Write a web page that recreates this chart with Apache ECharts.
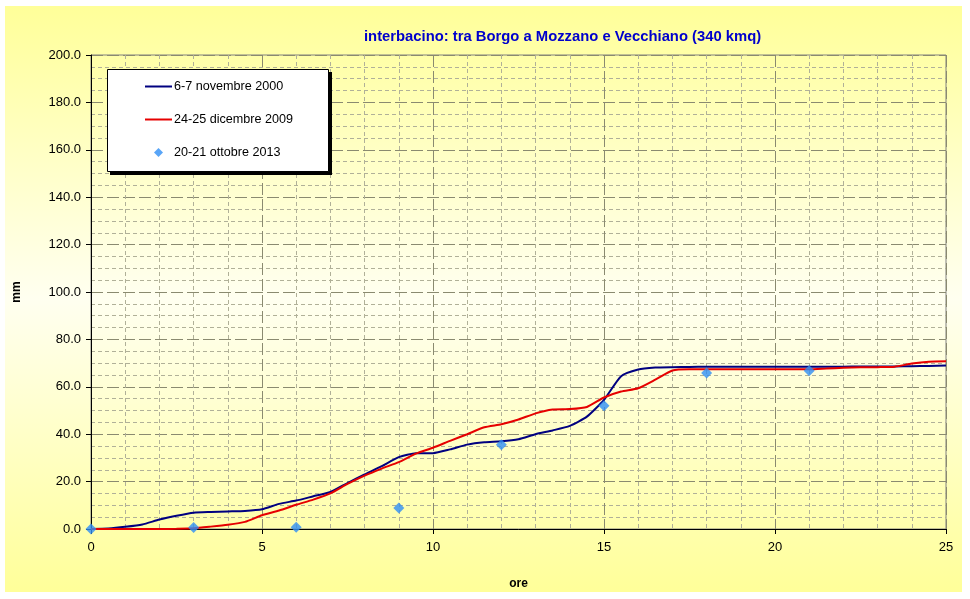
<!DOCTYPE html>
<html>
<head>
<meta charset="utf-8">
<script src="https://cdn.jsdelivr.net/npm/echarts@6.0.0/dist/echarts.min.js"></script>
<style>
  html, body { margin: 0; padding: 0; background: #ffffff; }
  #main { width: 970px; height: 599px; }
</style>
</head>
<body>
<div id="main"></div>
<script>
// ore (ascissa comune delle due curve)
var ore = [0, 0.5, 1, 1.5, 2, 2.5, 3, 3.5, 4, 4.5, 5, 5.5, 6, 6.5, 7, 7.5, 8, 8.5, 9, 9.5,
  10, 10.5, 11, 11.5, 12, 12.5, 13, 13.5, 14, 14.5, 15, 15.5, 16, 16.5, 17, 17.5, 18, 18.5, 19, 19.5,
  20, 20.5, 21, 21.5, 22, 22.5, 23, 23.5, 24, 24.5, 25]

// 6-7 novembre 2000 (mm cumulati)
var nov2000 = [0, 0.2, 0.9, 1.9, 4.0, 5.6, 6.9, 7.2, 7.4, 7.6, 8.3, 10.6, 12.0, 13.8, 15.6, 19.4, 23.0, 26.5, 30.3, 32.0,
  32.0, 33.6, 35.6, 36.6, 37.0, 37.9, 40.0, 41.6, 43.5, 47.4, 54.5, 64.5, 67.3, 68.1, 68.3, 68.4, 68.5, 68.5, 68.5, 68.5,
  68.5, 68.5, 68.5, 68.5, 68.5, 68.6, 68.6, 68.6, 68.7, 68.8, 69.0]

// 24-25 dicembre 2009
var dic2009 = [0, 0, 0, 0, 0, 0.1, 0.3, 1.0, 1.8, 3.0, 5.8, 7.8, 10.2, 12.4, 15.0, 19.0, 22.5, 25.5, 28.2, 31.8,
  34.3, 37.2, 40.0, 42.9, 44.2, 46.2, 48.8, 50.4, 50.6, 51.5, 55.5, 58.0, 59.4, 63.0, 66.9, 67.4, 67.4, 67.4, 67.4, 67.4,
  67.4, 67.4, 67.4, 67.7, 68.0, 68.2, 68.3, 68.5, 69.8, 70.6, 70.8]

// 20-21 ottobre 2013 (punti ogni 3 ore)
var ore2013 = [0, 3, 6, 9, 12, 15, 18, 21]
var ott2013 = [0, 0.6, 0.7, 8.9, 35.5, 52.0, 65.8, 66.8]

var nomi = ['6-7 novembre 2000', '24-25 dicembre 2009', '20-21 ottobre 2013']

function coppie (xs, ys) {
  var out = []
  for (var i = 0; i < xs.length; i++) out.push([xs[i], ys[i]])
  return out
}

var fontFam = '"Liberation Sans", Arial, sans-serif'
var iconLinea = 'path://M0,0 L27,0 L27,2 L0,2 Z'
var iconRombo = 'path://M5,0 L10,5 L5,10 L0,5 Z'
var myChart = echarts.init(document.getElementById('main'))

var option = {
  animation: false,
  backgroundColor: '#ffffff',
  graphic: [{
    type: 'rect',
    z: -100,
    silent: true,
    shape: { x: 5, y: 6, width: 957, height: 586 },
    style: {
      fill: {
        type: 'linear', x: 0, y: 0, x2: 0, y2: 1,
        colorStops: [
          { offset: 0, color: '#ffff99' },
          { offset: 0.5, color: '#fffff0' },
          { offset: 1, color: '#ffff99' }
        ]
      }
    }
  }, {
    // ombra del riquadro legenda
    type: 'rect',
    z: 10,
    silent: true,
    shape: { x: 110, y: 72, width: 222, height: 103 },
    style: { fill: '#000000' }
  }, {
    type: 'rect',
    z: 11,
    silent: true,
    shape: { x: 107.5, y: 69.5, width: 221, height: 102 },
    style: { fill: '#ffffff', stroke: '#000000', lineWidth: 1 }
  }],
  title: {
    text: 'interbacino: tra Borgo a Mozzano e Vecchiano (340 kmq)',
    left: 364,
    top: 29,
    padding: 0,
    textStyle: { color: '#0000cc', fontSize: 14.8, fontWeight: 'bold', fontFamily: fontFam }
  },
  legend: {
    data: [
      { name: nomi[0], icon: iconLinea },
      { name: nomi[1], icon: iconLinea },
      { name: nomi[2], icon: iconRombo }
    ],
    orient: 'vertical',
    left: 107,
    top: 69,
    z: 20,
    padding: [11, 35, 10, 38],
    itemWidth: 27,
    itemHeight: 9,
    itemGap: 20,
    textStyle: { color: '#000000', fontSize: 12.6, fontFamily: fontFam, padding: [0, 0, 0, -3] }
  },
  grid: {
    left: 91,
    right: 24,
    top: 55,
    bottom: 70,
    show: true,
    borderColor: '#808080',
    borderWidth: 1,
    backgroundColor: 'transparent'
  },
  xAxis: {
    type: 'value',
    min: 0,
    max: 25,
    interval: 5,
    name: 'ore',
    nameLocation: 'middle',
    nameGap: 49,
    nameTextStyle: { color: '#000000', fontSize: 12, fontWeight: 'bold', fontFamily: fontFam },
    axisLine: { show: true, onZero: false, lineStyle: { color: '#000000', width: 1 } },
    axisTick: { show: true, length: 5, lineStyle: { color: '#000000' } },
    axisLabel: { color: '#000000', fontSize: 13, fontFamily: fontFam, margin: 12 },
    splitLine: { show: true, lineStyle: { color: '#8a8a70', type: [12, 4], width: 1 } },
    minorTick: { show: false, splitNumber: 5 },
    minorSplitLine: { show: true, lineStyle: { color: '#b0b098', type: [4, 3], width: 1 } }
  },
  yAxis: {
    type: 'value',
    min: 0,
    max: 200,
    interval: 20,
    name: 'mm',
    nameLocation: 'middle',
    nameGap: 68,
    nameRotate: 90,
    nameTextStyle: { color: '#000000', fontSize: 12, fontWeight: 'bold', fontFamily: fontFam },
    axisLine: { show: true, lineStyle: { color: '#000000', width: 1 } },
    axisTick: { show: true, length: 5, lineStyle: { color: '#000000' } },
    axisLabel: {
      color: '#000000', fontSize: 13, fontFamily: fontFam, margin: 10,
      formatter: function (v) { return v.toFixed(1) }
    },
    splitLine: { show: true, lineStyle: { color: '#8a8a70', type: [12, 4], width: 1 } },
    minorTick: { show: false, splitNumber: 4 },
    minorSplitLine: { show: true, lineStyle: { color: '#b0b098', type: [4, 3], width: 1 } }
  },
  series: [{
    name: nomi[0],
    type: 'line',
    data: coppie(ore, nov2000),
    symbol: 'none',
    smooth: 0.2,
    lineStyle: { color: '#000080', width: 2 },
    itemStyle: { color: '#000080' }
  }, {
    name: nomi[1],
    type: 'line',
    data: coppie(ore, dic2009),
    symbol: 'none',
    smooth: 0.2,
    lineStyle: { color: '#e60000', width: 2 },
    itemStyle: { color: '#e60000' }
  }, {
    name: nomi[2],
    type: 'scatter',
    data: coppie(ore2013, ott2013),
    symbol: 'diamond',
    symbolSize: 11,
    itemStyle: { color: '#2f8ff5' },
    z: 5
  }]
}
myChart.setOption(option)
</script>
</body>
</html>
